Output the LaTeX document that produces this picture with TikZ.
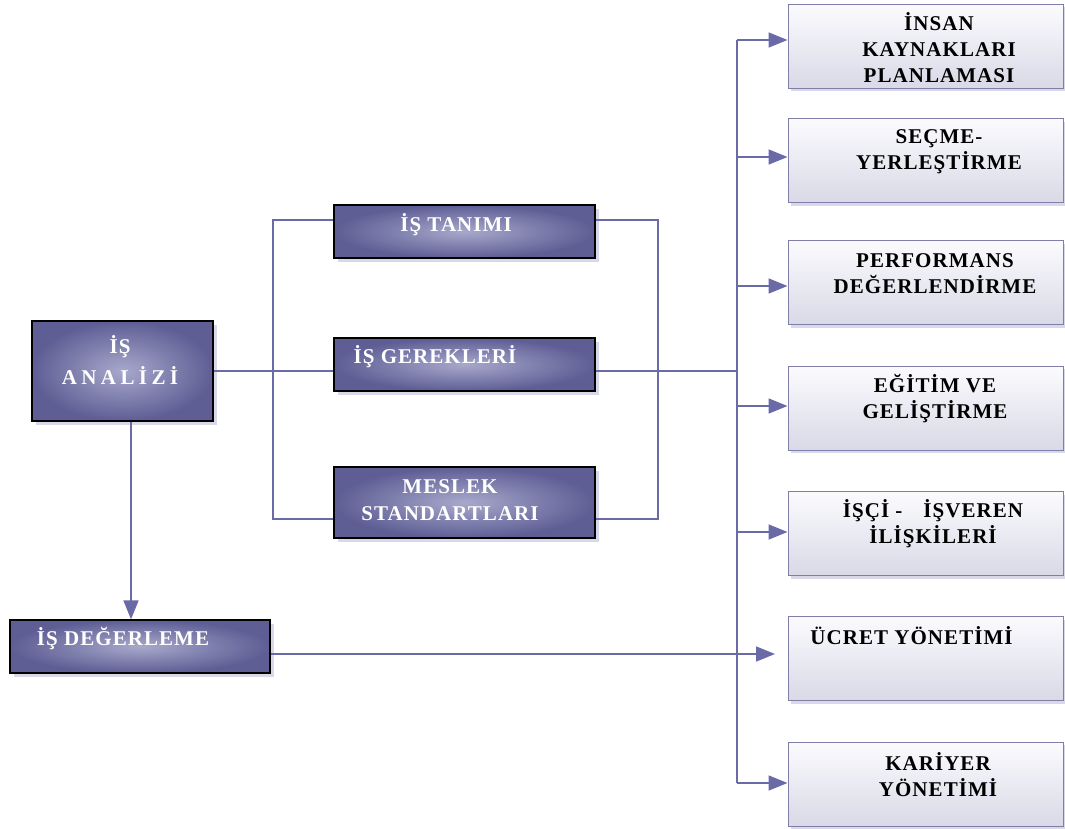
\documentclass[tikz,border=0pt]{standalone}
\usepackage{fontspec}
\setmainfont{Liberation Serif}
\newfontfamily\lblfont{Liberation Serif}[LetterSpace=5]
\newfontfamily\widefont{Liberation Serif}[LetterSpace=21]
\usetikzlibrary{arrows.meta,shadows,calc}

\definecolor{linecol}{HTML}{6A6AA6}
\definecolor{darkedge}{HTML}{5E5E95}
\definecolor{darkmid}{HTML}{A8A8CC}
\definecolor{lighttop}{HTML}{FBFBFE}
\definecolor{lightbot}{HTML}{D9D9E7}
\definecolor{lightborder}{HTML}{7E7EA8}
\definecolor{shadowcol}{HTML}{D8D8E8}

\tikzset{
  darkbox/.style={rectangle, inner sep=0pt, draw=black, line width=1.3pt,
    inner color=darkmid, outer color=darkedge,
    general shadow={fill=shadowcol, shadow xshift=4pt, shadow yshift=-4pt}},
  lightbox/.style={rectangle, inner sep=0pt, draw=lightborder, line width=1pt,
    top color=lighttop, bottom color=lightbot,
    minimum width=275pt, minimum height=84pt,
    general shadow={fill=shadowcol, shadow xshift=3pt, shadow yshift=-3pt}},
  wtext/.style={text=white, inner sep=0pt, align=center,
    font=\lblfont\bfseries\fontsize{21}{30}\selectfont},
  btext/.style={text=black, inner sep=0pt, align=center,
    font=\lblfont\bfseries\fontsize{21}{26}\selectfont},
  conn/.style={draw=linecol, line width=1.7pt},
  arr/.style={conn, -{Triangle[length=19pt,width=15pt]}},
}

\begin{document}
\begin{tikzpicture}[x=1pt,y=-1pt]
\useasboundingbox (0,0) rectangle (1065,829);

% analysis box and its three components
\node[darkbox, minimum width=181pt, minimum height=100pt] (ana) at (122.5,371) {};
\node[darkbox, minimum width=261pt, minimum height=53pt] (tan) at (464.5,231.5) {};
\node[darkbox, minimum width=261pt, minimum height=53pt] (ger) at (464.5,364.5) {};
\node[darkbox, minimum width=261pt, minimum height=71pt] (mes) at (464.5,502.5) {};
\node[darkbox, minimum width=260pt, minimum height=53pt] (deg) at (140,646.5) {};

% HR functions on the right
\node[lightbox] (r1) at (925.5,46.5) {};
\node[lightbox] (r2) at (925.5,161) {};
\node[lightbox] (r3) at (925.5,282.5) {};
\node[lightbox] (r4) at (925.5,408) {};
\node[lightbox] (r5) at (925.5,533.5) {};
\node[lightbox] (r6) at (925.5,658.5) {};
\node[lightbox] (r7) at (925.5,784) {};

% labels
\node[wtext] (tana) at (120,360) {İŞ\\{\widefont ANALİZİ}};
\node[wtext] (ttan) at (456,225) {İŞ TANIMI};
\node[wtext] (tger) at (435,357) {İŞ GEREKLERİ};
\node[wtext, font=\lblfont\bfseries\fontsize{21}{27}\selectfont] (tmes) at (450,500) {MESLEK\\STANDARTLARI};
\node[wtext] (tdeg) at (123,639) {İŞ DEĞERLEME};

\node[btext] (t1) at (939,47.5) {İNSAN\\KAYNAKLARI\\PLANLAMASI};
\node[btext] (t2) at (939,152) {SEÇME-\\YERLEŞTİRME};
\node[btext] (t3) at (935,273.5) {PERFORMANS\\DEĞERLENDİRME};
\node[btext] (t4) at (935,398.5) {EĞİTİM VE\\GELİŞTİRME};
\node[btext] (t5) at (933,524) {İŞÇİ -\hspace{1em}İŞVEREN\\İLİŞKİLERİ};
\node[btext] (t6) at (911.5,636) {ÜCRET YÖNETİMİ};
\node[btext] (t7) at (938,774.5) {KARİYER\\YÖNETİMİ};

% branch points
\coordinate (lb) at (273,371);
\coordinate (rb) at (658,371);
\coordinate (bt) at (737,40);
\coordinate (bb) at (737,783);
\coordinate (b2) at (737,157);
\coordinate (b3) at (737,286);
\coordinate (b4) at (737,406);
\coordinate (b5) at (737,532);
\coordinate (e6) at (775,654);

% analysis to components
\draw[conn] (ana.east) -- (ana.east -| ger.west);
\draw[conn] ([yshift=11.5pt]tan.west) -| (lb) |- ([yshift=-16.5pt]mes.west);
\draw[conn] ([yshift=11.5pt]tan.east) -| (rb) |- ([yshift=-16.5pt]mes.east);
\draw[conn] ([yshift=-6.5pt]ger.east) -- ([yshift=-6.5pt]ger.east -| bt);

% distribution bus
\draw[conn] (bt) -- (bb);
\draw[arr] (bt) -- (bt -| r1.west);
\draw[arr] (b2) -- (b2 -| r2.west);
\draw[arr] (b3) -- (b3 -| r3.west);
\draw[arr] (b4) -- (b4 -| r4.west);
\draw[arr] (b5) -- (b5 -| r5.west);
\draw[arr] (bb) -- (bb -| r7.west);

% job evaluation
\draw[arr] (ana.south -| 131,0) -- (deg.north -| 131,0);
\draw[arr] (deg.east |- e6) -- (e6);
\end{tikzpicture}
\end{document}
